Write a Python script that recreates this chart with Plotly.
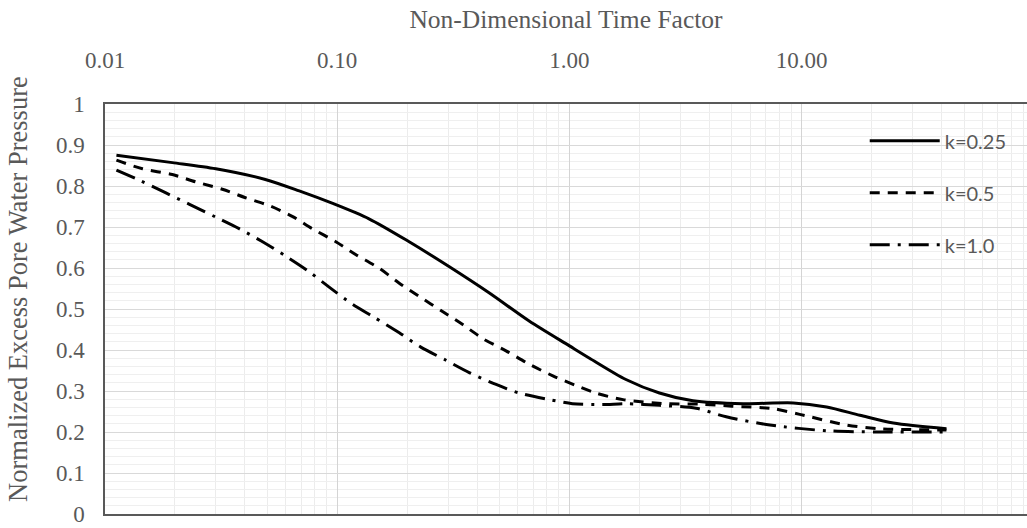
import plotly.graph_objects as go

# k = 0.25 (solid)
x_k025 = [0.0112, 0.0195, 0.030, 0.049, 0.0686, 0.095, 0.137, 0.204, 0.304, 0.452, 0.673,
          1.0, 1.22, 1.75, 2.44, 3.4, 5.6, 9.2, 12.8, 17.8, 24.8, 42]
y_k025 = [0.875, 0.857, 0.842, 0.816, 0.788, 0.758, 0.72, 0.664, 0.603, 0.539, 0.470,
          0.41, 0.38, 0.328, 0.295, 0.276, 0.269, 0.271, 0.261, 0.241, 0.222, 0.208]

# k = 0.5 (dashed)
x_k05 = [0.0112, 0.0145, 0.0195, 0.0246, 0.032, 0.040, 0.051, 0.064, 0.078, 0.0986, 0.12,
         0.152, 0.185, 0.225, 0.284, 0.347, 0.423, 0.533, 0.673, 0.848, 1.07, 1.30, 1.70,
         2.61, 3.63, 5.0, 7.5, 9.8, 15.6, 21.7, 42]
y_k05 = [0.863, 0.842, 0.828, 0.81, 0.792, 0.772, 0.752, 0.726, 0.696, 0.664, 0.633,
         0.599, 0.563, 0.531, 0.494, 0.462, 0.428, 0.398, 0.365, 0.337, 0.313, 0.295, 0.279,
         0.269, 0.268, 0.263, 0.257, 0.243, 0.217, 0.208, 0.205]

# k = 1.0 (dash-dot)
x_k10 = [0.0112, 0.0143, 0.0183, 0.023, 0.030, 0.0378, 0.0477, 0.060, 0.0757, 0.092, 0.116,
         0.144, 0.185, 0.229, 0.294, 0.37, 0.483, 0.608, 0.82, 1.03, 1.39, 1.75, 2.44, 3.51,
         4.73, 7.3, 12.8, 21, 42]
y_k10 = [0.839, 0.812, 0.783, 0.756, 0.724, 0.696, 0.664, 0.629, 0.591, 0.554, 0.512,
         0.48, 0.442, 0.407, 0.375, 0.345, 0.316, 0.295, 0.279, 0.269, 0.267, 0.269, 0.265, 0.258,
         0.237, 0.217, 0.203, 0.2, 0.2]

series_names = ["k=0.25", "k=0.5", "k=1.0"]
x_title = "Non-Dimensional Time Factor"
y_title = "Normalized Excess Pore Water Pressure"

GRAY = "#595959"
SERIF = "Liberation Serif, Times New Roman, serif"

fig = go.Figure()
styles = ["solid", "10px,8px", "20px,8px,3px,8px"]
for name, xs, ys, dash in zip(series_names, [x_k025, x_k05, x_k10], [y_k025, y_k05, y_k10], styles):
    fig.add_trace(go.Scatter(
        x=xs, y=ys, mode="lines", name=name, legendgroup=name,
        line=dict(color="black", width=3, dash=dash, shape="spline", smoothing=0.8),
    ))

fig.add_annotation(
    text=y_title, textangle=-90, xref="paper", yref="paper",
    x=-0.095, y=0.55, xanchor="center", yanchor="middle", showarrow=False,
    font=dict(family=SERIF, size=26.5, color=GRAY),
)

fig.update_layout(
    width=1027, height=528,
    margin=dict(l=105, r=0, t=104, b=14),
    paper_bgcolor="white", plot_bgcolor="white",
    showlegend=True,
    legend=dict(
        x=0.824, y=0.958, xanchor="left", yanchor="top",
        font=dict(family="Lato, Liberation Sans, sans-serif", size=20, color=GRAY),
        bgcolor="rgba(0,0,0,0)", itemwidth=70, tracegroupgap=23,
    ),
    xaxis=dict(
        type="log", side="top", range=[-2, 1.97], automargin=False,
        dtick=1, tickformat=".2f",
        showline=True, linecolor=GRAY, linewidth=1.5, mirror=True,
        showgrid=True, gridcolor="#d4d4d4", gridwidth=1,
        minor=dict(dtick="D1", showgrid=True, gridcolor="#ececec", gridwidth=1),
        ticks="", ticklabelstandoff=25, ticklabeloverflow="allow",
        tickfont=dict(family=SERIF, size=23, color=GRAY),
        title=dict(text=x_title, font=dict(family=SERIF, size=25.5, color=GRAY), standoff=12),
        zeroline=False,
    ),
    yaxis=dict(
        range=[0, 1], dtick=0.1, automargin=False,
        showline=True, linecolor=GRAY, linewidth=1.5, mirror=False,
        showgrid=True, gridcolor="#d9d9d9", gridwidth=1,
        minor=dict(dtick=0.02, showgrid=True, gridcolor="#efefef", gridwidth=1),
        ticks="", ticklabelstandoff=14, ticklabeloverflow="allow",
        tickfont=dict(family=SERIF, size=23, color=GRAY),
        zeroline=False,
    ),
)

fig.write_html("out.html", config={"displayModeBar": False},
               post_script="document.body.style.margin='0px';")
